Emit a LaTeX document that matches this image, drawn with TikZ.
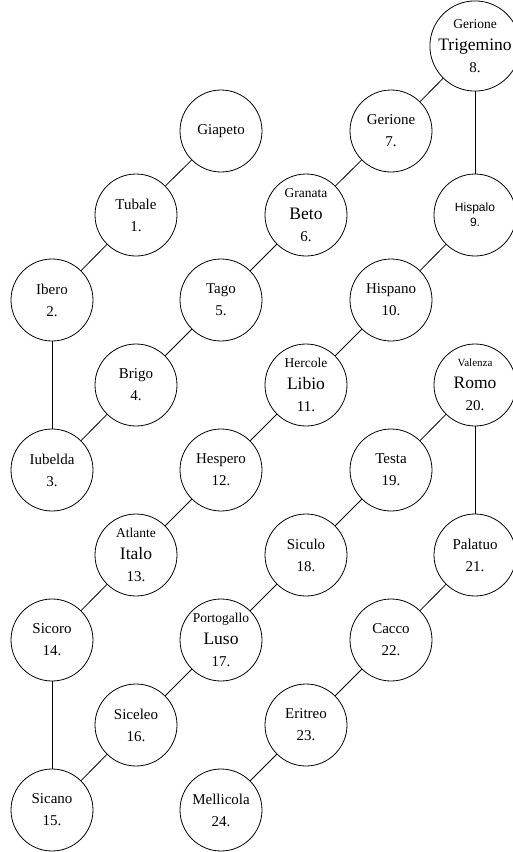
\documentclass[tikz,border=0pt]{standalone}
\usepackage{fontspec}
\setmainfont{Liberation Serif}
\newfontfamily\hsans{Liberation Sans}
\begin{document}
\begin{tikzpicture}[x=1pt,y=-1pt,
  pn/.style={circle,draw,line width=0.8pt,minimum size=82pt,inner sep=0pt,align=center,font=\fontsize{15}{22}\selectfont},
  link/.style={line width=0.8pt}]
\useasboundingbox (0,0) rectangle (512,852);
\def\sm#1{{\fontsize{13.5}{22}\selectfont #1}}
\def\bg#1{{\fontsize{17.5}{22}\selectfont #1}}
\def\tn#1{{\fontsize{11}{22}\selectfont #1}}
\node[pn] (g) at (221,131) {Giapeto};
\node[pn] (n1) at (136,215) {Tubale\\1.};
\node[pn] (n2) at (52,300) {Ibero\\2.};
\node[pn] (n3) at (52,470) {Iubelda\\3.};
\node[pn] (n4) at (136,385) {Brigo\\4.};
\node[pn] (n5) at (221,300) {Tago\\5.};
\node[pn] (n6) at (306,215) {\sm{Granata}\\\bg{Beto}\\6.};
\node[pn] (n7) at (391,131) {Gerione\\7.};
\node[pn] (n8) at (475,46) {\sm{Gerione}\\\bg{Trigemino}\\8.};
\node[pn,font=\hsans\fontsize{12}{15}\selectfont] (n9) at (475,215) {Hispalo\\9.};
\node[pn] (n10) at (391,300) {Hispano\\10.};
\node[pn] (n11) at (306,385) {\sm{Hercole}\\\bg{Libio}\\11.};
\node[pn] (n12) at (221,470) {Hespero\\12.};
\node[pn] (n13) at (136,555) {\sm{Atlante}\\\bg{Italo}\\13.};
\node[pn] (n14) at (52,640) {Sicoro\\14.};
\node[pn] (n15) at (52,810) {Sicano\\15.};
\node[pn] (n16) at (136,725) {Siceleo\\16.};
\node[pn] (n17) at (221,640) {\sm{Portogallo}\\\bg{Luso}\\17.};
\node[pn] (n18) at (306,555) {Siculo\\18.};
\node[pn] (n19) at (391,470) {Testa\\19.};
\node[pn] (n20) at (475,385) {\tn{Valenza}\\\bg{Romo}\\20.};
\node[pn] (n21) at (475,555) {Palatuo\\21.};
\node[pn] (n22) at (391,640) {Cacco\\22.};
\node[pn] (n23) at (306,725) {Eritreo\\23.};
\node[pn] (n24) at (221,810) {Mellicola\\24.};
\draw[link] (g) -- (n1);
\draw[link] (n1) -- (n2);
\draw[link] (n2) -- (n3);
\draw[link] (n3) -- (n4);
\draw[link] (n4) -- (n5);
\draw[link] (n5) -- (n6);
\draw[link] (n6) -- (n7);
\draw[link] (n7) -- (n8);
\draw[link] (n8) -- (n9);
\draw[link] (n9) -- (n10);
\draw[link] (n10) -- (n11);
\draw[link] (n11) -- (n12);
\draw[link] (n12) -- (n13);
\draw[link] (n13) -- (n14);
\draw[link] (n14) -- (n15);
\draw[link] (n15) -- (n16);
\draw[link] (n16) -- (n17);
\draw[link] (n17) -- (n18);
\draw[link] (n18) -- (n19);
\draw[link] (n19) -- (n20);
\draw[link] (n20) -- (n21);
\draw[link] (n21) -- (n22);
\draw[link] (n22) -- (n23);
\draw[link] (n23) -- (n24);
\end{tikzpicture}
\end{document}
